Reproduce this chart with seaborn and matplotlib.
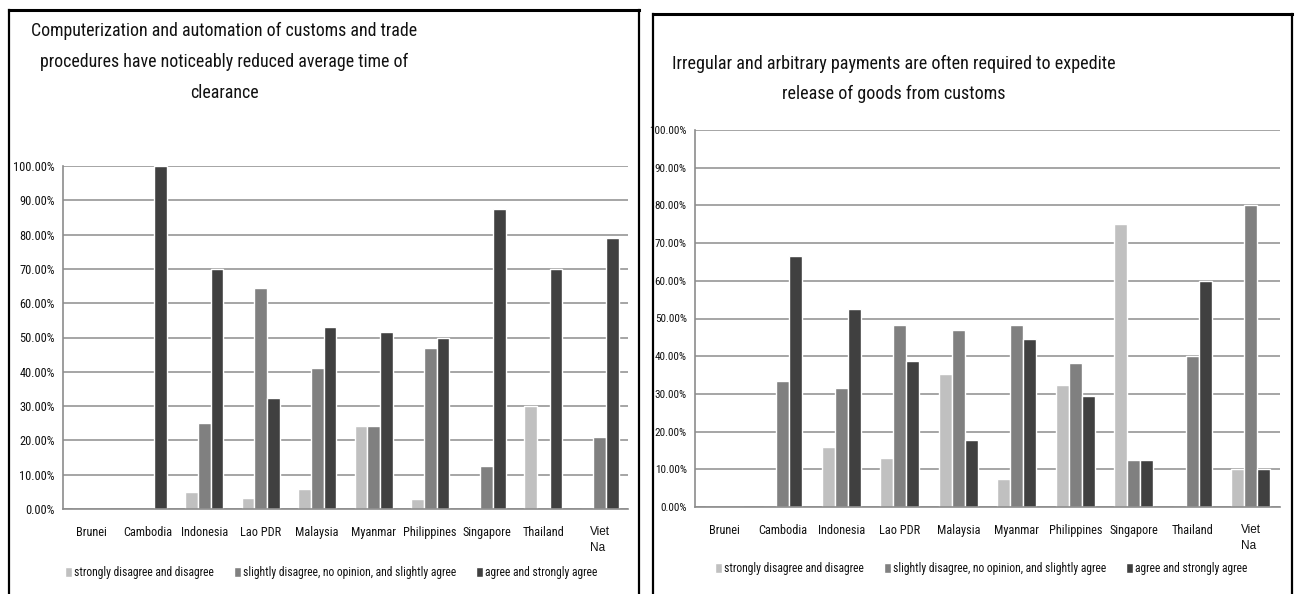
import matplotlib
matplotlib.use("Agg")
import matplotlib.pyplot as plt
from matplotlib import font_manager as fm
from matplotlib.lines import Line2D
from matplotlib.ticker import FuncFormatter, MultipleLocator
import numpy as np
import pandas as pd
import seaborn as sns

# ---- data -------------------------------------------------------------
countries = ["Brunei", "Cambodia", "Indonesia", "Lao PDR", "Malaysia",
             "Myanmar", "Philippines", "Singapore", "Thailand", "Viet\nNa"]
responses = ["strongly disagree and disagree",
             "slightly disagree, no opinion, and slightly agree",
             "agree and strongly agree"]

# Computerization and automation reduced clearance time (% of respondents)
auto_disagree = [0, 0, 5.0, 3.23, 5.88, 24.24, 2.94, 0, 30.0, 0]
auto_neutral = [0, 0, 25.0, 64.52, 41.18, 24.24, 47.06, 12.5, 0, 21.05]
auto_agree = [0, 100.0, 70.0, 32.26, 52.94, 51.52, 50.0, 87.5, 70.0, 78.95]

# Irregular payments required to expedite release (% of respondents)
pay_disagree = [0, 0, 15.79, 12.90, 35.29, 7.41, 32.35, 75.0, 0, 10.0]
pay_neutral = [0, 33.33, 31.58, 48.39, 47.06, 48.15, 38.24, 12.5, 40.0, 80.0]
pay_agree = [0, 66.67, 52.63, 38.71, 17.65, 44.44, 29.41, 12.5, 60.0, 10.0]

title_auto = ["Computerization and automation of customs and trade",
              "procedures have noticeably reduced average time of",
              "clearance"]
title_pay = ["Irregular and arbitrary payments are often required to expedite",
             "release of goods from customs"]

bar_colors = ["#c0c0c0", "#808080", "#404040"]


# ---- fonts: prefer a narrow sans face ----------------------------------
def pick_narrow_face():
    entries = fm.fontManager.ttflist
    regular = lambda e: (e.style == "normal"
                         and str(e.weight).lower() in ("400", "normal", "regular", "book"))
    for name in ("Liberation Sans Narrow", "Roboto Condensed", "Open Sans Condensed",
                 "Noto Sans Condensed", "DejaVu Sans Condensed"):
        for e in entries:
            if e.name == name and regular(e):
                return name, e.stretch
    narrow = ("ultra-condensed", "extra-condensed", "condensed", "semi-condensed")
    for name in ("Noto Sans", "Open Sans", "Roboto", "DejaVu Sans", "Liberation Sans"):
        for e in entries:
            if e.name == name and str(e.stretch) in narrow and regular(e):
                return name, e.stretch
    return "Roboto", "normal"


sns.set_theme(style="white")
face, stretch = pick_narrow_face()
plt.rcParams["font.family"] = [face, "DejaVu Sans"]
plt.rcParams["font.stretch"] = stretch
plt.rcParams["text.color"] = "#111111"
plt.rcParams["xtick.color"] = "#111111"
plt.rcParams["ytick.color"] = "#111111"

W, H = 1296, 594
fig = plt.figure(figsize=(W / 100, H / 100), dpi=100)
renderer = fig.canvas.get_renderer()


def fit_size(text, width_px, **kw):
    """Font size (pt) at which `text` spans `width_px` pixels."""
    t = fig.text(0, 0, text, fontsize=10, **kw)
    w = t.get_window_extent(renderer).width
    t.remove()
    return 10.0 * width_px / w


def px_axes(x0, y0, x1, y1):
    """Axes from a pixel box measured from the top-left corner."""
    return fig.add_axes([x0 / W, 1 - y1 / H, (x1 - x0) / W, (y1 - y0) / H])


def long_frame(a, b, c):
    rows = []
    for resp, vals in zip(responses, (a, b, c)):
        for ctry, v in zip(countries, vals):
            rows.append({"country": ctry, "response": resp, "share": v})
    return pd.DataFrame(rows)


xtick_fs = fit_size("Cambodia", 49)
legend_fs = fit_size(responses[0], 140)


def draw_panel(ax, df, ytick_width, legend_xy):
    sns.barplot(data=df, x="country", y="share", hue="response",
                order=countries, hue_order=responses, palette=bar_colors,
                saturation=1, width=0.667, errorbar=None, ax=ax)
    ax.set_xlim(-0.5, len(countries) - 0.5)
    ax.set_ylim(0, 100)
    ax.yaxis.set_major_locator(MultipleLocator(10))
    ax.yaxis.set_major_formatter(FuncFormatter(lambda v, _: f"{v:.2f}%"))
    ax.set_xlabel("")
    ax.set_ylabel("")
    ax.yaxis.grid(True, color="#969696", linewidth=1.2)
    ax.set_axisbelow(True)
    for s in ("top", "right"):
        ax.spines[s].set_visible(False)
    for s in ("left", "bottom"):
        ax.spines[s].set_color("#8c8c8c")
        ax.spines[s].set_linewidth(1.2)
    ax.tick_params(axis="y", length=0, pad=6,
                   labelsize=fit_size("100.00%", ytick_width))
    ax.tick_params(axis="x", length=0, pad=12, labelsize=xtick_fs)
    for lab in ax.get_xticklabels():
        if lab.get_text().startswith("Viet"):
            lab.set_fontfamily(["Liberation Sans", "DejaVu Sans"])
            lab.set_fontstretch("normal")
            lab.set_fontsize(8.5)
            lab.set_multialignment("left")
            lab.set_linespacing(1.45)
    fs_px = legend_fs * 100 / 72
    handles, labels = ax.get_legend_handles_labels()
    ax.legend(handles, labels, loc="center left", bbox_to_anchor=legend_xy,
              ncol=3, frameon=False, fontsize=legend_fs,
              handlelength=7 / fs_px, handleheight=11 / fs_px,
              handletextpad=2 / fs_px, columnspacing=20 / fs_px,
              borderpad=0, borderaxespad=0)


ax1 = px_axes(63, 166, 628, 509)
draw_panel(ax1, long_frame(auto_disagree, auto_neutral, auto_agree),
           41, (0.0035, -0.184))

ax2 = px_axes(695, 130, 1280, 507)
draw_panel(ax2, long_frame(pay_disagree, pay_neutral, pay_agree),
           37, (0.034, -0.162))

# titles, one line at a time
fs_t1 = fit_size(title_auto[0], 385)
for line, yc in zip(title_auto, (31, 62, 93)):
    fig.text(224 / W, 1 - yc / H, line, ha="center", va="center", fontsize=fs_t1)
fs_t2 = fit_size(title_pay[0], 440)
for line, yc in zip(title_pay, (64, 94)):
    fig.text(894 / W, 1 - yc / H, line, ha="center", va="center", fontsize=fs_t2)


# panel frames (open at the bottom)
def frame(x0, x1, ytop):
    kw = dict(color="black", transform=None, solid_capstyle="projecting")
    fig.add_artist(Line2D([x0, x1], [H - ytop, H - ytop], linewidth=2.2, **kw))
    fig.add_artist(Line2D([x0, x0], [H - ytop, -5], linewidth=1.6, **kw))
    fig.add_artist(Line2D([x1, x1], [H - ytop, -5], linewidth=1.6, **kw))


frame(8.5, 639, 10)
frame(652.5, 1292, 13.5)

fig.savefig("out.png", dpi=100)
